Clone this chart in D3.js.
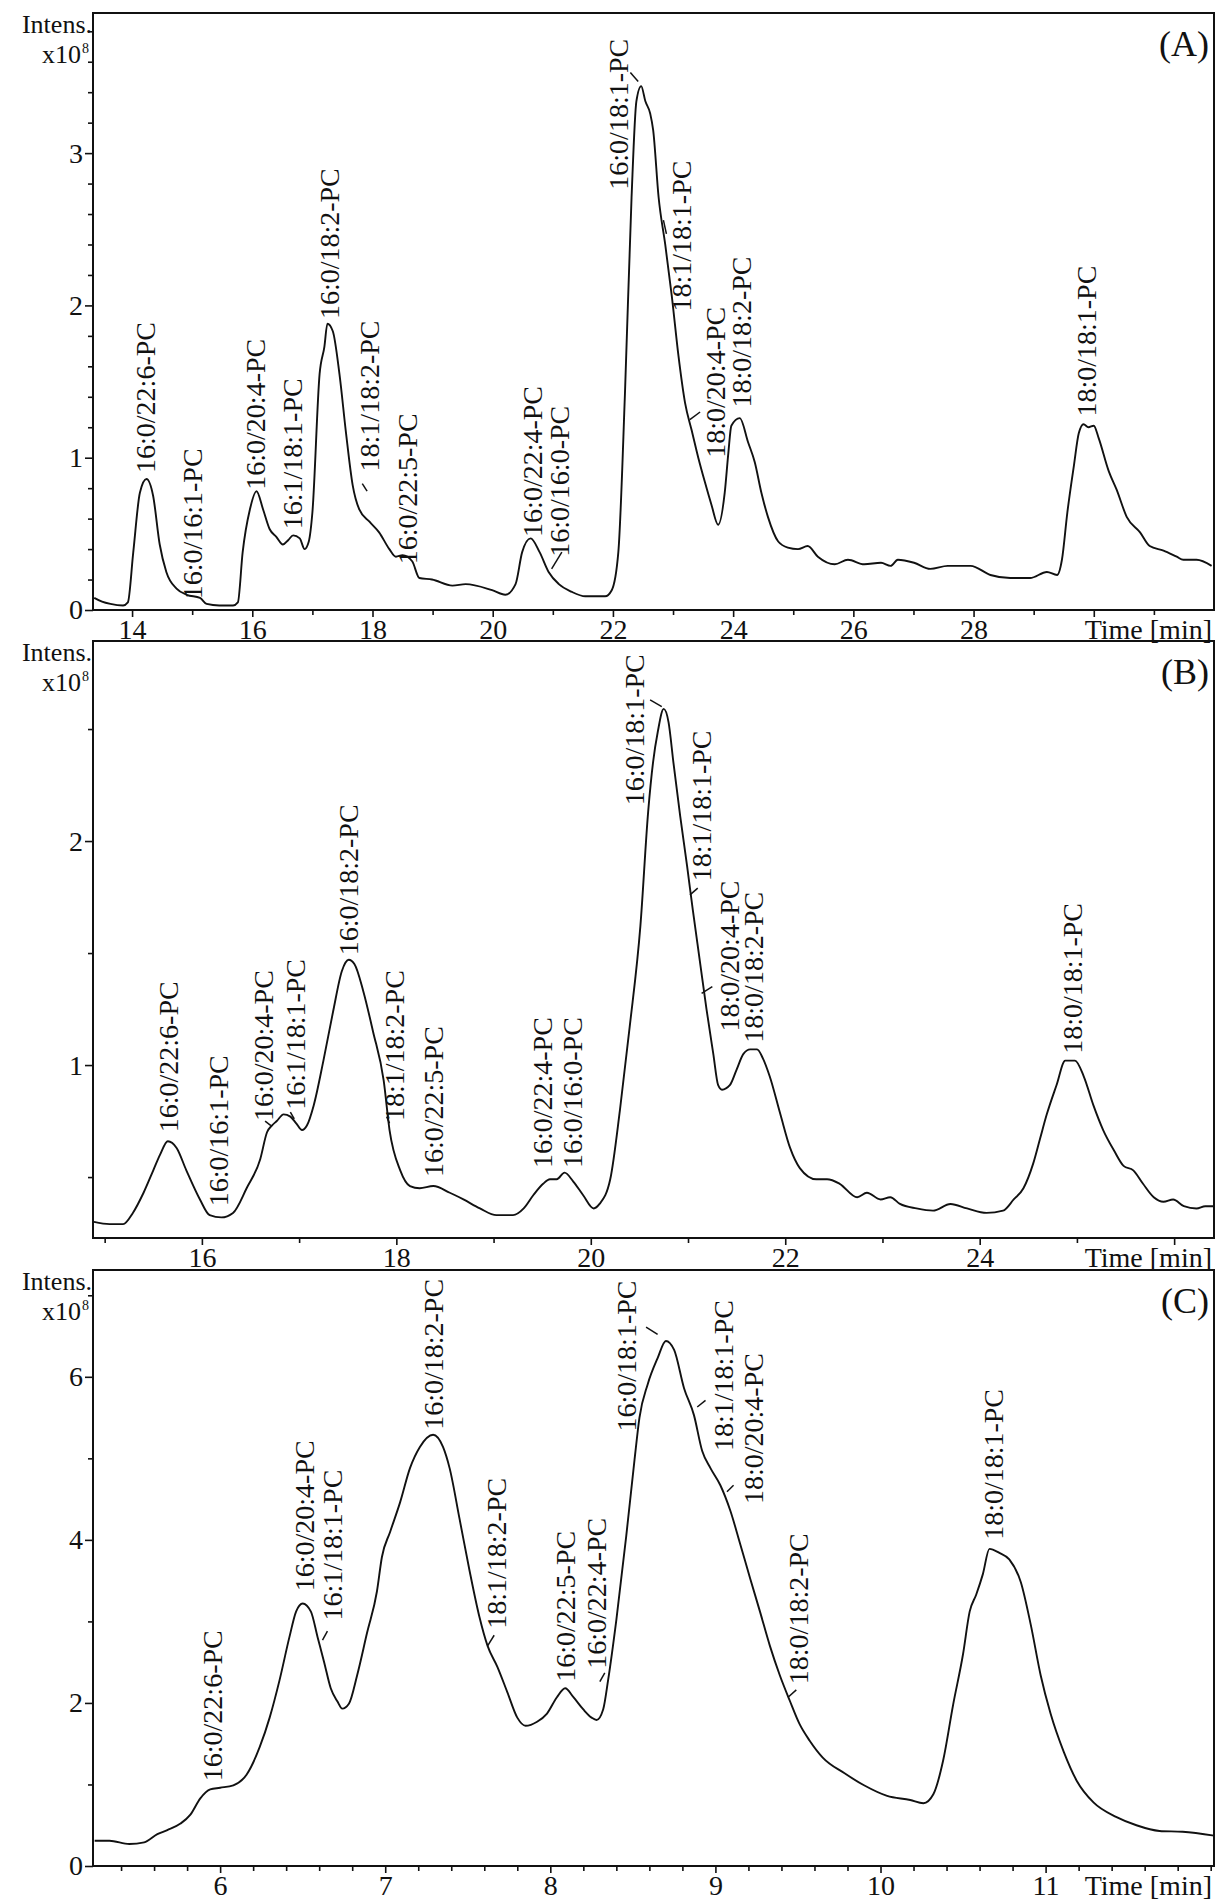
<!DOCTYPE html>
<html><head><meta charset="utf-8">
<script src="https://cdn.jsdelivr.net/npm/d3@7"></script>
<style>
html,body{margin:0;padding:0;background:#fff;}
svg text{font-family:"Liberation Serif","Times New Roman",serif;fill:#111;}
</style></head><body>
<svg id="chart" width="1216" height="1903"></svg>
<script>
// ---------------- DATA ----------------
// Panel A chromatogram: [time (min), intensity (x10^8)]
const seriesA = [[13.37,0.08],[13.5,0.055],[13.64,0.04],[13.85,0.03],[13.93,0.05],[14.02,0.38],[14.13,0.77],[14.24,0.86],[14.35,0.75],[14.46,0.43],[14.57,0.25],[14.74,0.14],[14.91,0.10],[15.13,0.08],[15.24,0.04],[15.45,0.03],[15.68,0.03],[15.76,0.05],[15.84,0.38],[15.96,0.66],[16.07,0.78],[16.18,0.66],[16.29,0.53],[16.4,0.48],[16.51,0.43],[16.6,0.46],[16.68,0.49],[16.79,0.47],[16.87,0.40],[16.94,0.45],[17.0,0.64],[17.12,1.55],[17.2,1.73],[17.25,1.88],[17.34,1.83],[17.45,1.55],[17.56,1.16],[17.67,0.82],[17.78,0.66],[17.95,0.58],[18.11,0.51],[18.28,0.40],[18.39,0.35],[18.5,0.36],[18.66,0.32],[18.78,0.21],[18.99,0.20],[19.33,0.16],[19.55,0.17],[19.99,0.13],[20.21,0.10],[20.38,0.17],[20.49,0.38],[20.63,0.47],[20.78,0.38],[20.93,0.25],[21.1,0.17],[21.31,0.12],[21.54,0.09],[21.87,0.09],[21.98,0.13],[22.09,0.38],[22.2,1.42],[22.31,2.71],[22.39,3.34],[22.47,3.44],[22.54,3.34],[22.62,3.26],[22.67,3.15],[22.76,2.71],[22.87,2.40],[22.98,2.06],[23.09,1.67],[23.2,1.36],[23.31,1.18],[23.42,1.0],[23.53,0.84],[23.64,0.69],[23.75,0.56],[23.86,0.77],[23.92,1.03],[23.97,1.21],[24.11,1.26],[24.25,1.10],[24.36,0.97],[24.47,0.77],[24.58,0.61],[24.75,0.45],[24.91,0.41],[25.08,0.40],[25.24,0.42],[25.41,0.35],[25.69,0.30],[25.91,0.33],[26.18,0.30],[26.46,0.31],[26.62,0.29],[26.74,0.33],[27.01,0.31],[27.28,0.27],[27.57,0.29],[27.95,0.29],[28.28,0.23],[28.61,0.21],[28.94,0.21],[29.22,0.25],[29.39,0.23],[29.47,0.33],[29.56,0.64],[29.67,0.95],[29.75,1.16],[29.83,1.22],[29.91,1.20],[30.0,1.21],[30.08,1.13],[30.25,0.91],[30.38,0.79],[30.55,0.61],[30.77,0.51],[30.93,0.42],[31.16,0.39],[31.38,0.35],[31.49,0.33],[31.71,0.33],[31.96,0.29]];

// Panel B chromatogram
const seriesB = [[14.89,0.30],[15.05,0.29],[15.19,0.29],[15.29,0.34],[15.40,0.43],[15.50,0.53],[15.57,0.60],[15.65,0.66],[15.74,0.63],[15.84,0.53],[15.98,0.40],[16.08,0.33],[16.20,0.32],[16.32,0.34],[16.46,0.45],[16.60,0.58],[16.67,0.70],[16.72,0.73],[16.77,0.75],[16.84,0.78],[16.91,0.77],[16.97,0.74],[17.03,0.71],[17.08,0.73],[17.15,0.82],[17.25,1.02],[17.35,1.24],[17.44,1.42],[17.51,1.47],[17.57,1.45],[17.66,1.33],[17.76,1.15],[17.87,0.93],[17.93,0.71],[18.04,0.53],[18.14,0.46],[18.24,0.45],[18.38,0.46],[18.55,0.43],[18.69,0.40],[18.86,0.36],[19.03,0.33],[19.20,0.33],[19.31,0.36],[19.41,0.42],[19.51,0.47],[19.58,0.49],[19.65,0.49],[19.73,0.52],[19.82,0.48],[19.92,0.42],[20.03,0.36],[20.09,0.38],[20.20,0.49],[20.30,0.80],[20.40,1.17],[20.51,1.62],[20.59,2.13],[20.64,2.35],[20.69,2.49],[20.75,2.59],[20.80,2.53],[20.85,2.35],[20.92,2.11],[20.99,1.89],[21.05,1.69],[21.12,1.47],[21.19,1.25],[21.26,1.05],[21.31,0.91],[21.35,0.89],[21.43,0.91],[21.50,0.98],[21.57,1.05],[21.64,1.07],[21.71,1.07],[21.77,1.03],[21.84,0.95],[21.95,0.78],[22.05,0.63],[22.15,0.54],[22.32,0.49],[22.43,0.49],[22.56,0.47],[22.74,0.41],[22.84,0.43],[22.98,0.40],[23.08,0.41],[23.18,0.38],[23.35,0.36],[23.52,0.35],[23.70,0.38],[23.87,0.36],[24.07,0.34],[24.24,0.35],[24.35,0.40],[24.45,0.45],[24.55,0.56],[24.62,0.67],[24.69,0.78],[24.79,0.91],[24.88,1.02],[24.98,1.02],[25.07,0.95],[25.17,0.82],[25.27,0.71],[25.38,0.62],[25.48,0.55],[25.58,0.53],[25.68,0.47],[25.79,0.41],[25.89,0.39],[25.99,0.40],[26.10,0.37],[26.23,0.36],[26.32,0.37],[26.42,0.37]];

// Panel C chromatogram
const seriesC = [[5.24,0.31],[5.33,0.31],[5.45,0.27],[5.54,0.29],[5.62,0.39],[5.68,0.44],[5.76,0.52],[5.82,0.63],[5.88,0.83],[5.94,0.94],[6.0,0.96],[6.08,0.99],[6.16,1.12],[6.24,1.46],[6.30,1.82],[6.36,2.28],[6.42,2.81],[6.46,3.12],[6.50,3.22],[6.55,3.12],[6.59,2.81],[6.63,2.50],[6.67,2.18],[6.71,2.02],[6.74,1.93],[6.78,1.99],[6.83,2.34],[6.89,2.86],[6.95,3.37],[6.98,3.79],[7.03,4.10],[7.09,4.46],[7.15,4.88],[7.21,5.14],[7.29,5.29],[7.35,5.14],[7.39,4.88],[7.45,4.26],[7.51,3.63],[7.57,3.06],[7.62,2.70],[7.68,2.44],[7.74,2.13],[7.80,1.82],[7.85,1.72],[7.92,1.77],[7.98,1.87],[8.04,2.07],[8.09,2.18],[8.14,2.07],[8.20,1.92],[8.25,1.82],[8.28,1.79],[8.32,1.92],[8.35,2.28],[8.40,3.02],[8.46,4.05],[8.51,4.98],[8.54,5.50],[8.59,5.91],[8.65,6.23],[8.70,6.44],[8.75,6.33],[8.81,5.86],[8.87,5.53],[8.92,5.09],[8.97,4.88],[9.03,4.67],[9.09,4.36],[9.15,3.95],[9.21,3.53],[9.27,3.12],[9.33,2.70],[9.39,2.34],[9.45,2.03],[9.51,1.74],[9.57,1.54],[9.65,1.33],[9.78,1.14],[9.90,0.99],[10.04,0.86],[10.18,0.81],[10.26,0.77],[10.32,0.88],[10.38,1.30],[10.44,1.98],[10.50,2.60],[10.54,3.12],[10.58,3.33],[10.62,3.58],[10.66,3.89],[10.72,3.84],[10.78,3.76],[10.85,3.48],[10.91,2.96],[10.97,2.34],[11.03,1.87],[11.11,1.40],[11.19,1.04],[11.29,0.78],[11.43,0.60],[11.55,0.50],[11.69,0.43],[11.83,0.42],[12.03,0.37]];

// Peak annotations: names and anchor [time, intensity] (bottom of rotated label)
const labelsA = ["16:0/22:6-PC","16:0/16:1-PC","16:0/20:4-PC","16:1/18:1-PC","16:0/18:2-PC","18:1/18:2-PC","16:0/22:5-PC","16:0/22:4-PC","16:0/16:0-PC","16:0/18:1-PC","18:1/18:1-PC","18:0/20:4-PC","18:0/18:2-PC","18:0/18:1-PC"];
const labelPosA = [[14.22,0.90],[15.0,0.07],[16.04,0.79],[16.67,0.53],[17.28,1.91],[17.95,0.91],[18.58,0.30],[20.65,0.48],[21.1,0.35],[22.09,2.76],[23.14,1.96],[23.7,1.0],[24.13,1.33],[29.87,1.27]];
const leadersA = [[17.83,0.83,17.91,0.78],[21.15,0.38,20.98,0.27],[22.29,3.53,22.42,3.47],[22.84,2.56,22.89,2.47],[23.28,1.25,23.45,1.30]];

const labelsB = ["16:0/22:6-PC","16:0/16:1-PC","16:0/20:4-PC","16:1/18:1-PC","16:0/18:2-PC","18:1/18:2-PC","16:0/22:5-PC","16:0/22:4-PC","16:0/16:0-PC","16:0/18:1-PC","18:1/18:1-PC","18:0/20:4-PC","18:0/18:2-PC","18:0/18:1-PC"];
const labelPosB = [[15.65,0.70],[16.17,0.37],[16.63,0.75],[16.96,0.80],[17.5,1.49],[17.98,0.75],[18.38,0.50],[19.5,0.54],[19.81,0.54],[20.45,2.16],[21.14,1.82],[21.42,1.15],[21.67,1.10],[24.95,1.05]];
const leadersB = [[16.65,0.75,16.71,0.73],[16.91,0.79,16.95,0.76],[17.90,0.77,17.93,0.74],[20.61,2.63,20.73,2.60],[21.02,1.76,21.10,1.79],[21.14,1.32,21.25,1.35]];

const labelsC = ["16:0/22:6-PC","16:0/20:4-PC","16:1/18:1-PC","16:0/18:2-PC","18:1/18:2-PC","16:0/22:5-PC","16:0/22:4-PC","16:0/18:1-PC","18:1/18:1-PC","18:0/20:4-PC","18:0/18:2-PC","18:0/18:1-PC"];
const labelPosC = [[5.95,1.04],[6.51,3.37],[6.68,3.01],[7.29,5.35],[7.67,2.91],[8.09,2.26],[8.28,2.42],[8.46,5.33],[9.05,5.09],[9.23,4.44],[9.50,2.23],[10.68,4.0]];
const leadersC = [[6.62,2.77,6.65,2.88],[7.62,2.70,7.66,2.83],[8.30,2.26,8.33,2.37],[8.58,6.61,8.65,6.52],[8.89,5.63,8.94,5.71],[9.07,4.59,9.11,4.67],[9.44,2.07,9.49,2.16]];

// Tick values and labels
const yTicksA = [0,1,2,3], yTickLabelsA = ["0","1","2","3"];
const yTicksB = [1,2], yTickLabelsB = ["1","2"];
const yTicksC = [0,2,4,6], yTickLabelsC = ["0","2","4","6"];
const xTicksA = [14,16,18,20,22,24,26,28,30], xTickLabelsA = ["14","16","18","20","22","24","26","28",""];
const xTicksB = [16,18,20,22,24,26], xTickLabelsB = ["16","18","20","22","24",""];
const xTicksC = [6,7,8,9,10,11], xTickLabelsC = ["6","7","8","9","10","11"];
const panelTags = ["(A)","(B)","(C)"];
const axisTitleY = ["Intens.","x10","8"];
const axisTitleX = "Time [min]";

// ---------------- LAYOUT ----------------
const L = 93, R = 1214;
const panels = [
  {tag:panelTags[0], top:13, bottom:610, xDom:[13.35,32.0], yDom:[0,3.92], series:seriesA, labels:labelsA, pos:labelPosA, leaders:leadersA,
   yT:yTicksA, yL:yTickLabelsA, yMinorStep:0.2, xT:xTicksA, xL:xTickLabelsA, xMinorStep:1},
  {tag:panelTags[1], top:641, bottom:1238, xDom:[14.88,26.41], yDom:[0.228,2.893], series:seriesB, labels:labelsB, pos:labelPosB, leaders:leadersB,
   yT:yTicksB, yL:yTickLabelsB, yMinorStep:0.5, xT:xTicksB, xL:xTickLabelsB, xMinorStep:1},
  {tag:panelTags[2], top:1270, bottom:1866, xDom:[5.23,12.02], yDom:[0,7.31], series:seriesC, labels:labelsC, pos:labelPosC, leaders:leadersC,
   yT:yTicksC, yL:yTickLabelsC, yMinorStep:1, xT:xTicksC, xL:xTickLabelsC, xMinorStep:0.2}
];

const svg = d3.select("#chart");
const FONT = '"Liberation Serif","Times New Roman",serif';
const ink = "#111";

panels.forEach((p, idx) => {
  const x = d3.scaleLinear().domain(p.xDom).range([L, R]);
  const y = d3.scaleLinear().domain(p.yDom).range([p.bottom, p.top]);
  const g = svg.append("g");

  g.append("clipPath").attr("id", "clip" + idx)
    .append("rect").attr("x", L).attr("y", p.top).attr("width", R - L).attr("height", p.bottom - p.top);

  // minor ticks (between majors)
  const yMinor = d3.range(Math.ceil(p.yDom[0] / p.yMinorStep) * p.yMinorStep, p.yDom[1], p.yMinorStep)
      .map(v => +v.toFixed(3)).filter(v => !p.yT.some(t => Math.abs(t - v) < 1e-6));
  const xMinor = d3.range(Math.ceil(p.xDom[0] / p.xMinorStep) * p.xMinorStep, p.xDom[1], p.xMinorStep)
      .map(v => +v.toFixed(3)).filter(v => !p.xT.some(t => Math.abs(t - v) < 1e-6));

  const yMin = g.append("g").attr("transform", `translate(${L},0)`)
    .call(d3.axisLeft(y).tickValues(yMinor).tickSize(5).tickFormat(""));
  const yMaj = g.append("g").attr("transform", `translate(${L},0)`)
    .call(d3.axisLeft(y).tickValues(p.yT).tickSize(8).tickPadding(2).tickFormat((v, i) => p.yL[i]));
  const xMin = g.append("g").attr("transform", `translate(0,${p.bottom})`)
    .call(d3.axisBottom(x).tickValues(xMinor).tickSize(5).tickFormat(""));
  const xMaj = g.append("g").attr("transform", `translate(0,${p.bottom})`)
    .call(d3.axisBottom(x).tickValues(p.xT).tickSize(7).tickPadding(2).tickFormat((v, i) => p.xL[i]));
  [yMin, yMaj, xMin, xMaj].forEach(a => {
    a.select(".domain").remove();
    a.attr("font-family", FONT).attr("font-size", 28);
    a.selectAll("line").attr("stroke", ink).attr("stroke-width", 1.6);
    a.selectAll("text").attr("fill", ink);
  });

  // frame
  g.append("rect").attr("x", L).attr("y", p.top).attr("width", R - L).attr("height", p.bottom - p.top)
    .attr("fill", "none").attr("stroke", ink).attr("stroke-width", 2);

  // chromatogram
  g.append("path").datum(p.series)
    .attr("clip-path", `url(#clip${idx})`)
    .attr("d", d3.line().x(d => x(d[0])).y(d => y(d[1])).curve(d3.curveMonotoneX))
    .attr("fill", "none").attr("stroke", ink).attr("stroke-width", 1.9).attr("stroke-linejoin", "round");

  // leader marks
  g.selectAll(".leader").data(p.leaders).enter().append("line")
    .attr("x1", d => x(d[0])).attr("y1", d => y(d[1]))
    .attr("x2", d => x(d[2])).attr("y2", d => y(d[3]))
    .attr("stroke", ink).attr("stroke-width", 1.5);

  // peak labels
  g.selectAll(".pk").data(p.labels).enter().append("text")
    .attr("transform", (d, i) => `translate(${x(p.pos[i][0])},${y(p.pos[i][1])}) rotate(-90)`)
    .attr("dy", "0.35em").attr("text-anchor", "start")
    .attr("font-size", 28).text(d => d);

  // y-axis title (stacked, non-overlapping)
  g.append("text").attr("x", L - 1).attr("y", p.top + 20).attr("text-anchor", "end")
    .attr("font-size", 26).text(axisTitleY[0]);
  g.append("text").attr("x", L - 12).attr("y", p.top + 50).attr("text-anchor", "end")
    .attr("font-size", 26).text(axisTitleY[1]);
  g.append("text").attr("x", L - 11).attr("y", p.top + 40).attr("text-anchor", "start")
    .attr("font-size", 14).text(axisTitleY[2]);

  g.append("text").attr("x", R - 2).attr("y", p.bottom + 29).attr("text-anchor", "end")
    .attr("font-size", 28).text(axisTitleX);

  g.append("text").attr("x", R - 5).attr("y", p.top + 43).attr("text-anchor", "end")
    .attr("font-size", 36).text(p.tag);
});
</script>
</body></html>
